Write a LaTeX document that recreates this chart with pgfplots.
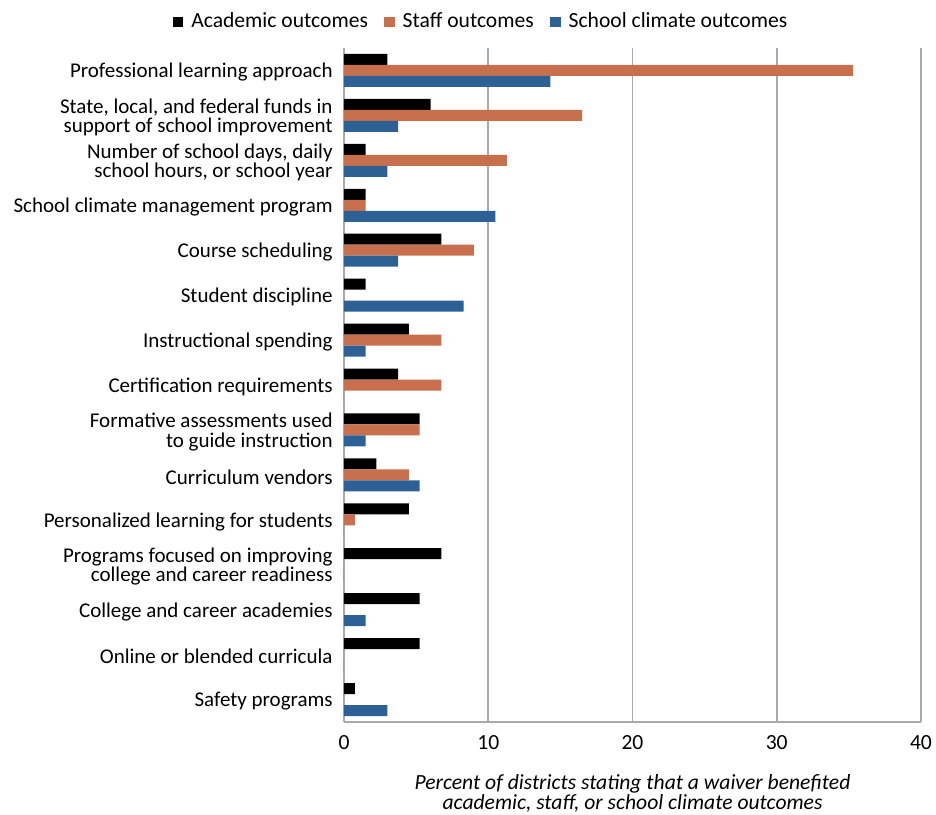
\documentclass[border=0pt]{standalone}
\usepackage{pgfplots}
\pgfplotsset{compat=1.18}
\usepackage{pgfplotstable}
\usepackage{fontspec}
\setmainfont{Carlito}
\definecolor{acad}{RGB}{0,0,0}
\definecolor{staff}{RGB}{200,111,78}
\definecolor{clim}{RGB}{45,97,149}
\definecolor{gridgray}{RGB}{170,170,170}
\pgfplotstableread{
y A S C
14 3.0 35.3 14.3
13 6.0 16.5 3.75
12 1.5 11.3 3.0
11 1.5 1.5 10.5
10 6.75 9.0 3.75
9 1.5 0 8.3
8 4.5 6.75 1.5
7 3.75 6.75 0
6 5.25 5.25 1.5
5 2.25 4.5 5.25
4 4.5 0.75 0
3 6.75 0 0
2 5.25 0 1.5
1 5.25 0 0
0 0.75 0 3.0
}\datatable
\begin{document}
\begin{tikzpicture}
\begin{axis}[
  name=ax,
  at={(0,0)}, anchor=south west,
  scale only axis,
  width=288.5pt, height=337pt,
  xbar, bar width=5.5pt,
  xmin=0, xmax=40,
  ymin=-0.5, ymax=14.5,
  xtick={0,10,20,30,40},
  ytick={0,...,14},
  yticklabels={
    {Safety programs},
    {Online or blended curricula},
    {College and career academies},
    {Programs focused on improving\\college and career readiness},
    {Personalized learning for students},
    {Curriculum vendors},
    {Formative assessments used\\to guide instruction},
    {Certification requirements},
    {Instructional spending},
    {Student discipline},
    {Course scheduling},
    {School climate management program},
    {Number of school days, daily\\school hours, or school year},
    {State, local, and federal funds in\\support of school improvement},
    {Professional learning approach}},
  yticklabel style={align=right, font=\fontsize{10.5}{9.6}\selectfont, inner sep=0pt, xshift=-5.5pt, yshift=-1pt},
  xticklabel style={font=\fontsize{10.8}{11}\selectfont, yshift=-3pt},
  /pgf/number format/assume math mode=true,
  major tick length=0pt,
  axis x line*=bottom, axis y line*=left,
  axis line style={gridgray, line width=0.8pt},
  xmajorgrids, grid style={gridgray, line width=0.8pt},
  xlabel={Percent of districts stating that a waiver benefited\\academic, staff, or school climate outcomes},
  xlabel style={align=center, font=\fontsize{10.8}{10}\selectfont\itshape, yshift=-6pt},
  legend columns=-1,
  legend style={draw=none, at={(0.239,1)}, anchor=center, yshift=13pt, font=\fontsize{10.8}{11}\selectfont,
    /tikz/every odd column/.append style={column sep=2pt},
    /tikz/every even column/.append style={column sep=6pt}},
  legend image code/.code={\fill[#1] (0pt,-2.7pt) rectangle (5.4pt,2.7pt);},
]
\addplot[draw=none, fill=acad, bar shift=5.5pt] table[x=A, y=y] {\datatable};
\addplot[draw=none, fill=staff, bar shift=0pt] table[x=S, y=y] {\datatable};
\addplot[draw=none, fill=clim, bar shift=-5.5pt] table[x=C, y=y] {\datatable};
\legend{Academic outcomes, Staff outcomes, School climate outcomes}
\end{axis}
\pgfresetboundingbox
\path[use as bounding box] (-172pt,-46pt) rectangle (296pt,361pt);
\end{tikzpicture}
\end{document}
